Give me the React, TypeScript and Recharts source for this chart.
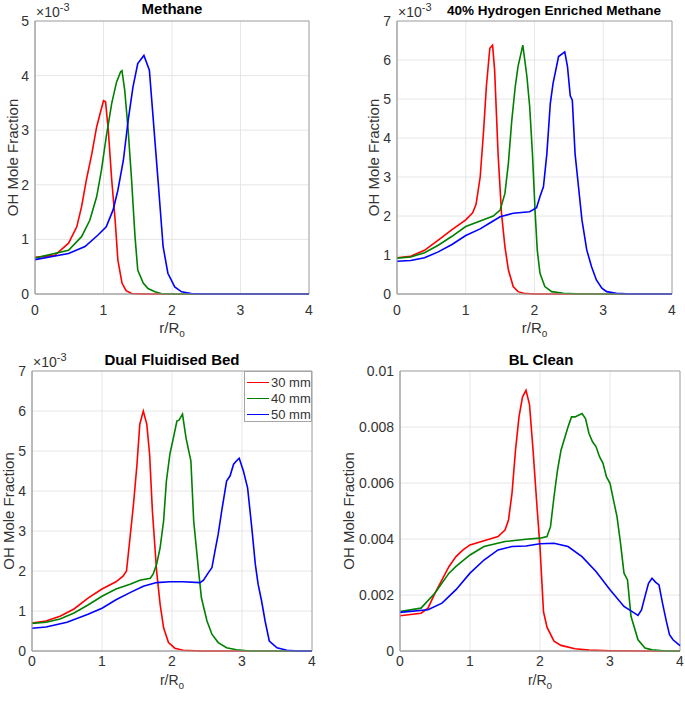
import {
  CartesianGrid,
  Legend,
  Line,
  LineChart,
  ReferenceArea,
  XAxis,
  YAxis,
} from "recharts";

const FONT = '"Liberation Sans", Arial, Helvetica, sans-serif';
const TEXT = "#333333";
const AXIS = "#a6a6a6";
const GRID = "#e6e6e6";

const radialTicks = [0, 1, 2, 3, 4];
const milliTicks5 = [0, 1, 2, 3, 4, 5];
const milliTicks7 = [0, 1, 2, 3, 4, 5, 6, 7];
const cleanTicks = [0, 0.002, 0.004, 0.006, 0.008, 0.01];
const seriesNames = ["30 mm", "40 mm", "50 mm"];
const seriesColors = ["#ff0000", "#008000", "#0000ff"];

// Methane (x10^-3)
const methaneR30 = [0, 0.29, 0.49, 0.61, 0.68, 0.75, 0.83, 0.9, 0.95, 1.0, 1.03, 1.07, 1.12, 1.17, 1.21, 1.27, 1.33, 1.41, 1.6, 4];
const methaneOH30 = [0.67, 0.71, 0.93, 1.23, 1.6, 2.09, 2.57, 3.06, 3.3, 3.54, 3.52, 3.0, 2.09, 1.35, 0.62, 0.2, 0.06, 0.01, 0, 0];
const methaneR40 = [0, 0.49, 0.68, 0.8, 0.9, 0.97, 1.04, 1.12, 1.19, 1.25, 1.27, 1.31, 1.36, 1.41, 1.46, 1.5, 1.58, 1.65, 1.75, 1.84, 2.0, 4];
const methaneOH40 = [0.66, 0.8, 1.05, 1.35, 1.78, 2.27, 2.88, 3.49, 3.88, 4.07, 4.09, 3.73, 3.0, 2.09, 1.05, 0.44, 0.2, 0.1, 0.04, 0.01, 0, 0];
const methaneR50 = [0, 0.49, 0.73, 0.92, 1.04, 1.14, 1.21, 1.29, 1.36, 1.43, 1.5, 1.59, 1.67, 1.72, 1.8, 1.87, 1.94, 2.04, 2.14, 2.28, 2.5, 4];
const methaneOH50 = [0.63, 0.74, 0.87, 1.08, 1.23, 1.54, 1.9, 2.45, 3.18, 3.79, 4.22, 4.37, 4.1, 3.3, 2.02, 0.87, 0.38, 0.13, 0.04, 0.01, 0, 0];

// 40% hydrogen enriched methane (x10^-3)
const h2R30 = [0, 0.2, 0.4, 0.6, 0.8, 1.0, 1.1, 1.15, 1.21, 1.26, 1.3, 1.35, 1.39, 1.42, 1.47, 1.52, 1.57, 1.62, 1.69, 1.76, 1.84, 2.0, 4];
const h2OH30 = [0.93, 0.97, 1.12, 1.38, 1.65, 1.9, 2.08, 2.3, 3.0, 4.2, 5.32, 6.3, 6.38, 5.74, 3.6, 2.07, 1.21, 0.62, 0.19, 0.06, 0.02, 0, 0];
const h2R40 = [0, 0.2, 0.4, 0.6, 0.8, 1.0, 1.21, 1.4, 1.5, 1.57, 1.62, 1.67, 1.72, 1.76, 1.83, 1.89, 1.93, 1.97, 2.01, 2.04, 2.08, 2.15, 2.25, 2.42, 2.7, 4];
const h2OH40 = [0.92, 0.95, 1.06, 1.25, 1.48, 1.73, 1.87, 2.0, 2.15, 2.58, 3.35, 4.46, 5.32, 5.83, 6.38, 5.57, 4.8, 3.6, 2.07, 1.13, 0.53, 0.19, 0.06, 0.02, 0, 0];
const h2R50 = [0, 0.2, 0.4, 0.6, 0.8, 1.0, 1.21, 1.35, 1.5, 1.69, 1.93, 2.03, 2.08, 2.13, 2.18, 2.23, 2.27, 2.35, 2.44, 2.48, 2.52, 2.55, 2.59, 2.64, 2.69, 2.76, 2.83, 2.9, 2.98, 3.05, 3.19, 3.4, 4];
const h2OH50 = [0.84, 0.86, 0.93, 1.08, 1.27, 1.5, 1.67, 1.82, 1.98, 2.07, 2.11, 2.21, 2.5, 2.75, 3.6, 4.89, 5.4, 6.09, 6.21, 5.83, 5.08, 4.97, 3.6, 2.75, 1.9, 1.13, 0.7, 0.36, 0.15, 0.06, 0.02, 0, 0];

// Dual fluidised bed (x10^-3)
const dfbR30 = [0, 0.2, 0.4, 0.6, 0.8, 1.0, 1.2, 1.3, 1.35, 1.4, 1.45, 1.5, 1.54, 1.59, 1.64, 1.68, 1.72, 1.78, 1.83, 1.88, 1.95, 2.04, 2.16, 2.4, 4];
const dfbOH30 = [0.7, 0.75, 0.87, 1.05, 1.32, 1.55, 1.73, 1.87, 2.0, 2.83, 3.67, 4.67, 5.67, 6.0, 5.67, 4.92, 3.5, 2.0, 1.17, 0.58, 0.21, 0.07, 0.02, 0, 0];
const dfbR40 = [0, 0.2, 0.4, 0.6, 0.8, 1.0, 1.2, 1.4, 1.54, 1.69, 1.73, 1.78, 1.83, 1.88, 1.92, 1.97, 2.02, 2.07, 2.1, 2.15, 2.2, 2.27, 2.31, 2.38, 2.42, 2.5, 2.57, 2.66, 2.78, 2.92, 3.11, 4];
const dfbOH40 = [0.69, 0.72, 0.8, 0.95, 1.15, 1.37, 1.55, 1.67, 1.77, 1.82, 1.92, 2.17, 2.58, 3.25, 4.25, 4.92, 5.33, 5.75, 5.77, 5.92, 5.33, 4.75, 3.25, 2.0, 1.33, 0.75, 0.42, 0.21, 0.08, 0.03, 0, 0];
const dfbR50 = [0, 0.2, 0.5, 0.8, 1.0, 1.2, 1.4, 1.59, 1.78, 1.97, 2.16, 2.4, 2.45, 2.52, 2.57, 2.61, 2.66, 2.71, 2.78, 2.83, 2.88, 2.92, 2.96, 3.02, 3.08, 3.14, 3.19, 3.23, 3.28, 3.33, 3.39, 3.5, 3.64, 3.8, 4];
const dfbOH50 = [0.57, 0.6, 0.72, 0.92, 1.07, 1.28, 1.46, 1.62, 1.71, 1.73, 1.73, 1.71, 1.77, 1.96, 2.08, 2.46, 2.92, 3.5, 4.25, 4.38, 4.67, 4.75, 4.82, 4.5, 4.08, 3.08, 2.17, 1.67, 1.25, 0.75, 0.25, 0.08, 0.02, 0, 0];

// BL clean (absolute mole fraction)
const cleanR30 = [0, 0.3, 0.4, 0.5, 0.6, 0.7, 0.8, 0.9, 1.0, 1.2, 1.4, 1.5, 1.55, 1.6, 1.65, 1.7, 1.75, 1.8, 1.85, 1.9, 1.95, 2.0, 2.05, 2.1, 2.2, 2.3, 2.5, 2.7, 3.0, 3.5, 4];
const cleanOH30 = [0.00126, 0.00135, 0.00153, 0.00207, 0.00254, 0.00302, 0.00337, 0.00361, 0.00379, 0.00394, 0.00409, 0.00432, 0.00468, 0.00563, 0.00717, 0.00836, 0.00907, 0.00931, 0.0088, 0.0072, 0.0054, 0.0037, 0.0014, 0.00085, 0.00035, 0.0002, 0.00008, 0.00003, 0.00001, 0, 0];
const cleanR40 = [0, 0.3, 0.5, 0.7, 0.8, 1.0, 1.2, 1.5, 1.8, 2.0, 2.1, 2.15, 2.2, 2.25, 2.3, 2.4, 2.45, 2.5, 2.55, 2.6, 2.65, 2.7, 2.75, 2.8, 2.85, 2.9, 2.95, 3.0, 3.05, 3.1, 3.15, 3.2, 3.25, 3.3, 3.4, 3.5, 3.6, 3.8, 4];
const cleanOH40 = [0.00141, 0.00153, 0.00207, 0.00278, 0.00302, 0.00343, 0.00373, 0.00391, 0.00399, 0.00403, 0.00409, 0.00444, 0.00551, 0.00646, 0.00717, 0.008, 0.00836, 0.00836, 0.00842, 0.00848, 0.0083, 0.00777, 0.00747, 0.0073, 0.00694, 0.0067, 0.00622, 0.00599, 0.00539, 0.0048, 0.00385, 0.00278, 0.00254, 0.00124, 0.0004, 0.00011, 0.00004, 0, 0];
const cleanR50 = [0, 0.4, 0.6, 0.8, 1.0, 1.2, 1.4, 1.6, 1.8, 2.0, 2.2, 2.4, 2.6, 2.8, 3.0, 3.2, 3.35, 3.4, 3.45, 3.5, 3.55, 3.6, 3.65, 3.7, 3.75, 3.8, 3.85, 3.9, 4.0];
const cleanOH50 = [0.00138, 0.00147, 0.00171, 0.00219, 0.00278, 0.00325, 0.00361, 0.00373, 0.00375, 0.00383, 0.00385, 0.00373, 0.00337, 0.00284, 0.00219, 0.00159, 0.00135, 0.00127, 0.00147, 0.00195, 0.00242, 0.0026, 0.00246, 0.00236, 0.00171, 0.00112, 0.00058, 0.0004, 0.00019];

type Series = { name: string; color: string; r: number[]; oh: number[] };

const toPoints = (r: number[], oh: number[]) =>
  r.map((x, i) => ({ x, y: oh[i] }));

const makeSeries = (pairs: [number[], number[]][]): Series[] =>
  pairs.map(([r, oh], i) => ({
    name: seriesNames[i],
    color: seriesColors[i],
    r,
    oh,
  }));

type PanelProps = {
  left: number;
  top: number;
  width: number;
  height: number;
  yAxisWidth: number;
  marginRight: number;
  xAxisHeight: number;
  tickGap: number;
  xLabelGap: number;
  xLabelSize: number;
  yLabelX: number;
  yMax: number;
  yTicks: number[];
  yFormat?: (v: number) => string;
  series: Series[];
  legend?: boolean;
};

const renderLegend = (props: any) => {
  const items = props.payload || [];
  return (
    <div
      style={{
        width: 68,
        height: 51,
        boxSizing: "border-box",
        border: `1px solid ${AXIS}`,
        background: "#fff",
        paddingTop: 2,
      }}
    >
      {items.map((e: any) => (
        <div
          key={e.value}
          style={{ display: "flex", alignItems: "center", height: 16 }}
        >
          <span
            style={{
              display: "inline-block",
              width: 22,
              borderTop: `1.5px solid ${e.color}`,
              marginLeft: 2,
              marginRight: 2,
            }}
          />
          <span style={{ fontSize: 13, color: TEXT, fontFamily: FONT }}>
            {e.value}
          </span>
        </div>
      ))}
    </div>
  );
};

const Panel = (p: PanelProps) => {
  const plotLeft = p.yAxisWidth;
  const plotRight = p.width - p.marginRight;
  const plotTop = 21;
  const plotBottom = p.height - p.xAxisHeight;
  const cx = (plotLeft + plotRight) / 2;
  const cy = (plotTop + plotBottom) / 2;

  return (
    <div style={{ position: "absolute", left: p.left, top: p.top }}>
      <LineChart
        width={p.width}
        height={p.height}
        margin={{ top: plotTop, right: p.marginRight, bottom: 0, left: 0 }}
        style={{ fontFamily: FONT }}
      >
        <CartesianGrid stroke={GRID} />
        <XAxis
          type="number"
          dataKey="x"
          domain={[0, 4]}
          ticks={radialTicks}
          height={p.xAxisHeight}
          tickLine={false}
          tickSize={0}
          tickMargin={p.tickGap}
          stroke={AXIS}
          tick={{ fill: TEXT, fontSize: 14 }}
          label={() => (
            <text
              x={cx}
              y={plotBottom + p.xLabelGap}
              textAnchor="middle"
              fill={TEXT}
              fontSize={p.xLabelSize}
              fontFamily={FONT}
            >
              r/R
              <tspan fontSize={10} dy={4}>
                o
              </tspan>
            </text>
          )}
        />
        <YAxis
          type="number"
          domain={[0, p.yMax]}
          ticks={p.yTicks}
          width={p.yAxisWidth}
          tickLine={false}
          tickSize={0}
          tickMargin={6}
          stroke={AXIS}
          tick={{ fill: TEXT, fontSize: 14 }}
          tickFormatter={p.yFormat}
          label={() => (
            <text
              x={p.yLabelX}
              y={cy}
              transform={`rotate(-90, ${p.yLabelX}, ${cy})`}
              textAnchor="middle"
              fill={TEXT}
              fontSize={15}
              fontFamily={FONT}
            >
              OH Mole Fraction
            </text>
          )}
        />
        <ReferenceArea
          x1={0}
          x2={4}
          y1={0}
          y2={p.yMax}
          fill="none"
          stroke={AXIS}
          strokeWidth={1}
        />
        {p.series.map((s) => (
          <Line
            key={s.name}
            data={toPoints(s.r, s.oh)}
            dataKey="y"
            name={s.name}
            type="linear"
            stroke={s.color}
            strokeWidth={1.6}
            dot={false}
            activeDot={false}
            isAnimationActive={false}
          />
        ))}
        {p.legend && (
          <Legend
            layout="vertical"
            align="center"
            verticalAlign="middle"
            content={renderLegend}
            wrapperStyle={{ position: "absolute", left: 244, top: 21, width: 68 }}
          />
        )}
      </LineChart>
    </div>
  );
};

const Exponent = ({ x, y }: { x: number; y: number }) => (
  <text x={x} y={y} fill={TEXT} fontSize={14} fontFamily={FONT}>
    ×10
    <tspan fontSize={11} dy={-6}>
      -3
    </tspan>
  </text>
);

const Title = ({ x, y, size, children }: any) => (
  <text
    x={x}
    y={y}
    textAnchor="middle"
    fill="#000"
    fontSize={size}
    fontWeight="bold"
    fontFamily={FONT}
  >
    {children}
  </text>
);

const cleanFormat = (v: number) => String(v);

export default function App() {
  return (
    <div
      style={{
        position: "absolute",
        left: 0,
        top: 0,
        width: 685,
        height: 701,
        background: "#fff",
        overflow: "hidden",
      }}
    >
      <Panel
        left={0}
        top={0}
        width={340}
        height={345}
        yAxisWidth={35}
        marginRight={31}
        xAxisHeight={51}
        tickGap={11}
        xLabelGap={39}
        xLabelSize={15}
        yLabelX={18}
        yMax={5}
        yTicks={milliTicks5}
        series={makeSeries([
          [methaneR30, methaneOH30],
          [methaneR40, methaneOH40],
          [methaneR50, methaneOH50],
        ])}
      />
      <Panel
        left={340}
        top={0}
        width={345}
        height={345}
        yAxisWidth={57}
        marginRight={13}
        xAxisHeight={51}
        tickGap={11}
        xLabelGap={39}
        xLabelSize={15}
        yLabelX={39}
        yMax={7}
        yTicks={milliTicks7}
        series={makeSeries([
          [h2R30, h2OH30],
          [h2R40, h2OH40],
          [h2R50, h2OH50],
        ])}
      />
      <Panel
        left={0}
        top={350}
        width={340}
        height={351}
        yAxisWidth={32}
        marginRight={28}
        xAxisHeight={50}
        tickGap={5}
        xLabelGap={34}
        xLabelSize={14}
        yLabelX={14}
        yMax={7}
        yTicks={milliTicks7}
        legend
        series={makeSeries([
          [dfbR30, dfbOH30],
          [dfbR40, dfbOH40],
          [dfbR50, dfbOH50],
        ])}
      />
      <Panel
        left={340}
        top={350}
        width={345}
        height={351}
        yAxisWidth={60}
        marginRight={5}
        xAxisHeight={50}
        tickGap={5}
        xLabelGap={34}
        xLabelSize={14}
        yLabelX={14}
        yMax={0.01}
        yTicks={cleanTicks}
        yFormat={cleanFormat}
        series={makeSeries([
          [cleanR30, cleanOH30],
          [cleanR40, cleanOH40],
          [cleanR50, cleanOH50],
        ])}
      />
      <svg
        width={685}
        height={701}
        style={{ position: "absolute", left: 0, top: 0, pointerEvents: "none" }}
      >
        <Title x={172} y={14} size={15}>
          Methane
        </Title>
        <Title x={554} y={15} size={13.5}>
          40% Hydrogen Enriched Methane
        </Title>
        <Title x={172} y={365} size={15}>
          Dual Fluidised Bed
        </Title>
        <Title x={541} y={365} size={15}>
          BL Clean
        </Title>
        <Exponent x={36} y={17} />
        <Exponent x={398} y={17} />
        <Exponent x={33} y={367} />
      </svg>
    </div>
  );
}
